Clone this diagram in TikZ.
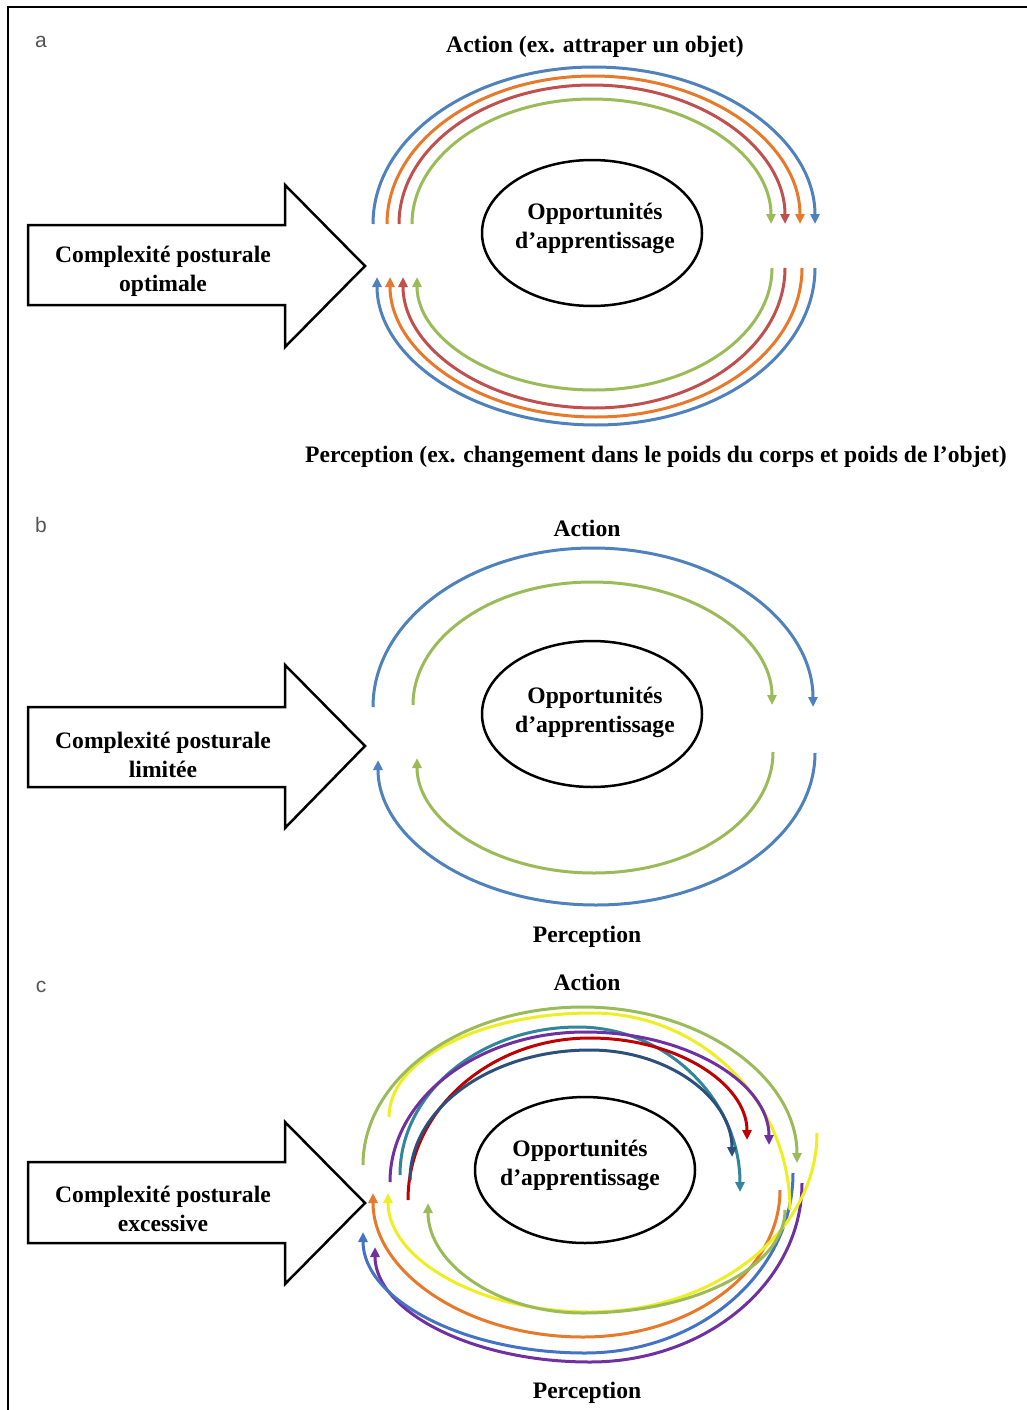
\documentclass[tikz,border=0pt]{standalone}
\usepackage{fontspec}
\setmainfont{Liberation Serif}
\newfontfamily\lblfont{Liberation Sans}
\usetikzlibrary{arrows.meta,shapes.geometric}
\definecolor{cblue}{HTML}{4F81BD}
\definecolor{corange}{HTML}{E8782A}
\definecolor{cred}{HTML}{C0504D}
\definecolor{cgreen}{HTML}{9BBB59}
\definecolor{cyellow}{HTML}{EEEE22}
\definecolor{cteal}{HTML}{31859C}
\definecolor{cpurple}{HTML}{7030A0}
\definecolor{cdred}{HTML}{C00000}
\definecolor{cnavy}{HTML}{2C4F7C}
\definecolor{cblue2}{HTML}{4472C4}
\definecolor{lblgray}{HTML}{555555}
% curve: #1 style, (#2,#3) start, (#4,#5) apex, (#6,#7) end
\newcommand\loopcurve[7]{%
  \draw[#1] (#2,#3) .. controls (#2,{#3+0.5523*(#5-#3)}) and ({#4-0.5523*(#4-#2)},#5) .. (#4,#5)
    .. controls ({#4+0.5523*(#6-#4)},#5) and (#6,{#7+0.5523*(#5-#7)}) .. (#6,#7);}
\begin{document}
\begin{tikzpicture}[x=1pt,y=-1pt,
  txt/.style={font=\fontsize{23.6}{29}\selectfont\bfseries, inner sep=0pt, align=center},
  lbl/.style={font=\lblfont\fontsize{21}{24}\selectfont, text=lblgray, inner sep=0pt},
  bigarrow/.style={draw=black, line width=2.5pt, line join=miter},
  opp/.style={draw=black, line width=2.5pt, ellipse, minimum width=220pt, minimum height=146pt, inner sep=0pt},
  crv/.style={line width=3pt},
  fwd/.style={crv, -{Triangle[length=10pt,width=9pt]}},
  bwd/.style={crv, {Triangle[length=10pt,width=9pt]}-}]
\useasboundingbox (0,0) rectangle (1027,1410);
\fill[white] (0,0) rectangle (1027,1410);
% frame
\draw[line width=2pt] (1027,7) -- (8,7) -- (8,1410);

% ================= panel a =================
\node[lbl] (la) at (41,42) {a};
\node[txt] (acta) at (595,47) {Action (ex. attraper un objet)};
\node[txt] (perca) at (656,457) {Perception (ex. changement dans le poids du corps et poids de l’objet)};
\draw[bigarrow] (28,225) -- (285,225) -- (285,185) -- (365,266) -- (285,347) -- (285,305) -- (28,305) -- cycle;
\node[txt] (cpa) at (163,271) {Complexité posturale\\optimale};
\node[opp] (ella) at (592,233) {};
\node[txt] (oppa) at (595,228) {Opportunités\\d’apprentissage};
\loopcurve{fwd,cblue}{373}{224}{594}{67}{815}{224}
\loopcurve{fwd,corange}{387}{224}{593}{76}{800}{224}
\loopcurve{fwd,cred}{399}{224}{592}{85}{785}{224}
\loopcurve{fwd,cgreen}{412}{224}{592}{99}{771}{224}
\loopcurve{bwd,cblue}{377}{277}{596}{425}{815}{268}
\loopcurve{bwd,corange}{390}{277}{596}{417}{802}{268}
\loopcurve{bwd,cred}{403}{277}{594}{408}{785}{268}
\loopcurve{bwd,cgreen}{417}{277}{594}{390}{772}{268}

% ================= panel b =================
\node[lbl] (lb) at (41,525) {b};
\node[txt] (actb) at (587,528) {Action};
\node[txt] (percb) at (587,937) {Perception};
\draw[bigarrow] (28,707) -- (285,707) -- (285,665) -- (365,746) -- (285,828) -- (285,787) -- (28,787) -- cycle;
\node[txt] (cpb) at (163,755) {Complexité posturale\\limitée};
\node[opp] (ellb) at (592,714) {};
\node[txt] (oppb) at (595,712) {Opportunités\\d’apprentissage};
\loopcurve{fwd,cblue}{373}{707}{593}{548}{813}{707}
\loopcurve{fwd,cgreen}{413}{705}{592}{582}{772}{705}
\loopcurve{bwd,cblue}{378}{760}{596}{905}{815}{753}
\loopcurve{bwd,cgreen}{417}{758}{594}{873}{773}{752}

% ================= panel c =================
\node[lbl] (lc) at (41,987) {c};
\node[txt] (actc) at (587,982) {Action};
\node[txt] (percc) at (587,1393) {Perception};
\draw[bigarrow] (28,1162) -- (285,1162) -- (285,1122) -- (365,1203) -- (285,1284) -- (285,1243) -- (28,1243) -- cycle;
\node[txt] (cpc) at (163,1209) {Complexité posturale\\excessive};
\node[opp] (ellc) at (585,1170) {};
\node[txt] (oppc) at (580,1165) {Opportunités\\d’apprentissage};
% bottom group
\loopcurve{bwd,cpurple}{375}{1247}{590}{1362}{802}{1183}
\loopcurve{bwd,cblue2}{363}{1232}{585}{1353}{793}{1173}
\loopcurve{bwd,corange}{373}{1193}{583}{1337}{780}{1190}
\loopcurve{bwd,cyellow}{388}{1193}{590}{1312}{817}{1133}
\loopcurve{bwd,cgreen}{428}{1203}{583}{1313}{785}{1210}
% top group
\loopcurve{crv,cyellow}{389}{1117}{592}{1013}{790}{1210}
\loopcurve{fwd,cgreen}{363}{1165}{583}{1007}{797}{1163}
\loopcurve{fwd,cteal}{400}{1175}{578}{1027}{740}{1192}
\loopcurve{fwd,cpurple}{390}{1182}{585}{1032}{769}{1145}
\loopcurve{fwd,cdred}{408}{1200}{590}{1038}{747}{1140}
\loopcurve{fwd,cnavy}{410}{1180}{590}{1050}{732}{1157}
\end{tikzpicture}
\end{document}
